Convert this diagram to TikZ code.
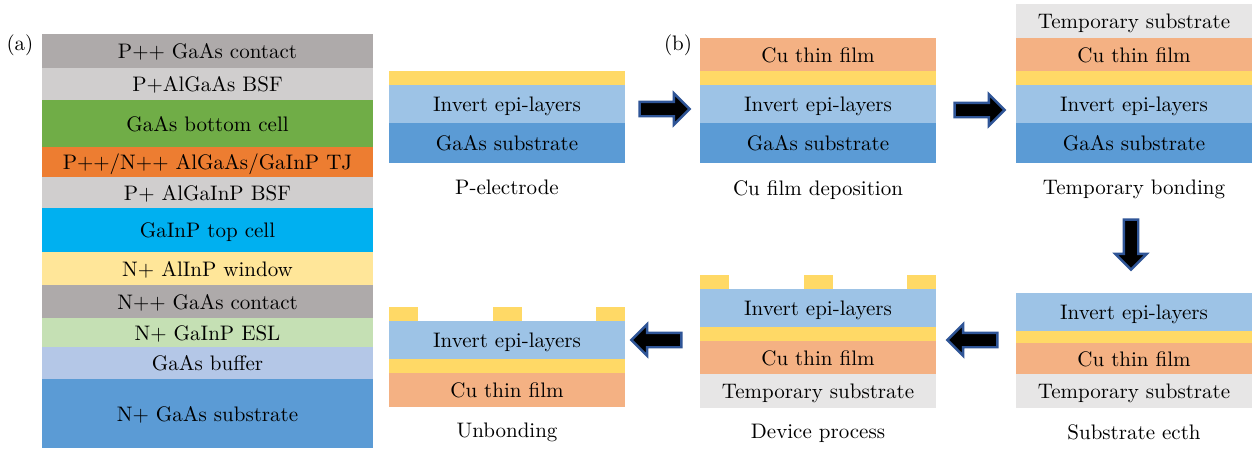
\documentclass[tikz,border=0pt]{standalone}
\usepackage{tikz}
\usetikzlibrary{positioning,shapes.arrows}

\definecolor{contactgray}{HTML}{AEAAAA}
\definecolor{bsfgray}{HTML}{D0CECE}
\definecolor{cellgreen}{HTML}{70AD47}
\definecolor{tjorange}{HTML}{ED7D31}
\definecolor{topcyan}{HTML}{00B0F0}
\definecolor{windowyellow}{HTML}{FFE699}
\definecolor{eslgreen}{HTML}{C5E0B4}
\definecolor{bufferblue}{HTML}{B4C7E7}
\definecolor{subblue}{HTML}{5B9BD5}
\definecolor{epiblue}{HTML}{9DC3E6}
\definecolor{gold}{HTML}{FFD966}
\definecolor{cuorange}{HTML}{F4B183}
\definecolor{tempgray}{HTML}{E7E6E6}
\definecolor{arrowblue}{HTML}{2F5597}

\begin{document}
\begin{tikzpicture}[
    x=0.5pt, y=-0.5pt,
    node distance=0pt,
    every node/.style={font=\fontsize{10.5}{12}\selectfont},
    lyr/.style={rectangle, inner sep=0pt, outer sep=0pt, text centered,
                text height=1.75ex, text depth=0ex},
    stacklyr/.style={lyr, minimum width=165.5pt},
    film/.style={lyr, minimum width=118pt},
    goldlyr/.style={film, fill=gold, minimum height=7pt, text height=0pt},
    epilyr/.style={film, fill=epiblue, minimum height=19pt},
    sublyr/.style={film, fill=subblue, minimum height=20pt},
    culyr/.style={film, fill=cuorange, minimum height=16.5pt},
    templyr/.style={film, fill=tempgray, minimum height=17pt},
    goldpad/.style={rectangle, inner sep=0pt, outer sep=0pt, fill=gold,
                    minimum width=14.5pt, minimum height=7pt},
    steplabel/.style={inner sep=2pt},
    blockarr/.style={single arrow, draw=arrowblue, line width=1.2pt, fill=black,
                     inner sep=3pt, minimum height=25pt,
                     single arrow head extend=4.25pt, single arrow head indent=0pt},
]
\useasboundingbox (0,0) rectangle (1252,450);

% (a) epitaxial structure
\node (lbla) at (20,45) {(a)};
\node[stacklyr, fill=contactgray, minimum height=17pt, anchor=north west] (a1) at (42,34) {P++ GaAs contact};
\node[stacklyr, fill=bsfgray,      minimum height=16pt,   below=of a1]  (a2)  {P+AlGaAs BSF};
\node[stacklyr, fill=cellgreen,    minimum height=23.5pt, below=of a2]  (a3)  {GaAs bottom cell};
\node[stacklyr, fill=tjorange,     minimum height=15pt,   below=of a3]  (a4)  {P++/N++ AlGaAs/GaInP TJ};
\node[stacklyr, fill=bsfgray,      minimum height=15.5pt, below=of a4]  (a5)  {P+ AlGaInP BSF};
\node[stacklyr, fill=topcyan,      minimum height=22pt,   below=of a5]  (a6)  {GaInP top cell};
\node[stacklyr, fill=windowyellow, minimum height=16.5pt, below=of a6]  (a7)  {N+ AlInP window};
\node[stacklyr, fill=contactgray,  minimum height=16.5pt, below=of a7]  (a8)  {N++ GaAs contact};
\node[stacklyr, fill=eslgreen,     minimum height=14.5pt, below=of a8]  (a9)  {N+ GaInP ESL};
\node[stacklyr, fill=bufferblue,   minimum height=16pt,   below=of a9]  (a10) {GaAs buffer};
\node[stacklyr, fill=subblue,      minimum height=34.5pt, below=of a10] (a11) {N+ GaAs substrate};

% (b) process flow
\node (lblb) at (678,45) {(b)};

% P-electrode
\node[goldlyr, anchor=north west] (pe1) at (389,71) {};
\node[epilyr, below=of pe1] (pe2) {Invert epi-layers};
\node[sublyr, below=of pe2] (pe3) {GaAs substrate};
\node[steplabel, below=6.5pt of pe3] (pel) {P-electrode};

% Cu film deposition
\node[culyr, anchor=north west] (cd1) at (700,38) {Cu thin film};
\node[goldlyr, below=of cd1] (cd2) {};
\node[epilyr,  below=of cd2] (cd3) {Invert epi-layers};
\node[sublyr,  below=of cd3] (cd4) {GaAs substrate};
\node[steplabel, below=6.5pt of cd4] (cdl) {Cu film deposition};

% Temporary bonding
\node[templyr, anchor=north west] (tb1) at (1016,4) {Temporary substrate};
\node[culyr,   below=of tb1] (tb2) {Cu thin film};
\node[goldlyr, below=of tb2] (tb3) {};
\node[epilyr,  below=of tb3] (tb4) {Invert epi-layers};
\node[sublyr,  below=of tb4] (tb5) {GaAs substrate};
\node[steplabel, below=6.5pt of tb5] (tbl) {Temporary bonding};

% Substrate etch
\node[epilyr, anchor=north west] (se1) at (1016,293) {Invert epi-layers};
\node[goldlyr, below=of se1, minimum height=6pt] (se2) {};
\node[culyr,   below=of se2, minimum height=15.5pt] (se3) {Cu thin film};
\node[templyr, below=of se3] (se4) {Temporary substrate};
\node[steplabel, below=6pt of se4] (sel) {Substrate ecth};

% Device process
\node[epilyr, anchor=north west] (dp1) at (700,289) {Invert epi-layers};
\node[goldlyr, below=of dp1] (dp2) {};
\node[culyr,   below=of dp2] (dp3) {Cu thin film};
\node[templyr, below=of dp3] (dp4) {Temporary substrate};
\node[goldpad, anchor=south west] (dpa) at (dp1.north west) {};
\node[goldpad, anchor=south]      (dpb) at (dp1.north) {};
\node[goldpad, anchor=south east] (dpc) at (dp1.north east) {};
\node[steplabel, below=6pt of dp4] (dpl) {Device process};

% Unbonding
\node[epilyr, anchor=north west] (ub1) at (389,321) {Invert epi-layers};
\node[goldlyr, below=of ub1] (ub2) {};
\node[culyr,   below=of ub2, minimum height=17pt] (ub3) {Cu thin film};
\node[goldpad, anchor=south west] (uba) at (ub1.north west) {};
\node[goldpad, anchor=south]      (ubb) at (ub1.north) {};
\node[goldpad, anchor=south east] (ubc) at (ub1.north east) {};
\node[steplabel, below=6pt of ub3] (ubl) {Unbonding};

% block arrows
\node[blockarr] (arr1) at (661,109) {};
\node[blockarr] (arr2) at (976,110) {};
\node[blockarr, rotate=-90] (arr3) at (1131,241) {};
\node[blockarr, rotate=180] (arr4) at (976,340) {};
\node[blockarr, rotate=180] (arr5) at (660,340) {};

\end{tikzpicture}
\end{document}
